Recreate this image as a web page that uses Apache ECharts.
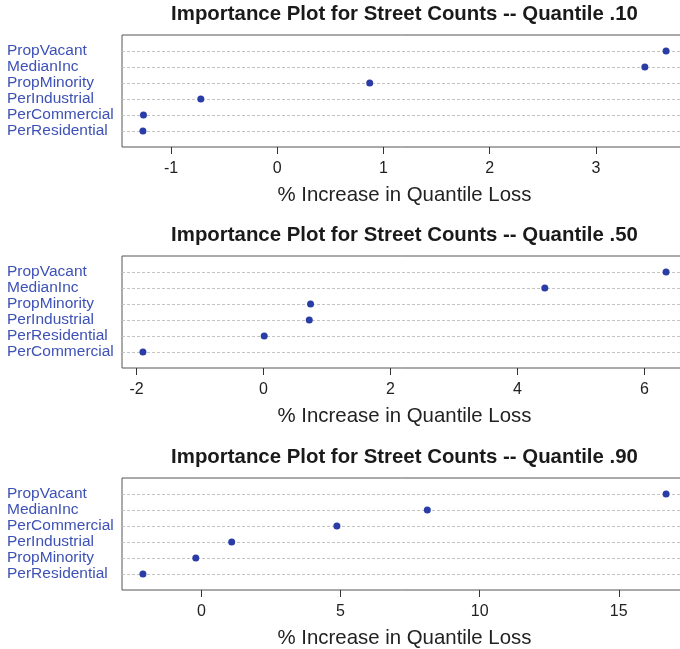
<!DOCTYPE html>
<html>
<head>
<meta charset="utf-8">
<script src="https://cdn.jsdelivr.net/npm/echarts@6/dist/echarts.min.js"></script>
<style>
html,body{margin:0;padding:0;background:#fff;}
#chart{width:680px;height:649px;}
</style>
</head>
<body>
<div id="chart"></div>
<script>
// Panel titles
const titles = [
  'Importance Plot for Street Counts -- Quantile .10',
  'Importance Plot for Street Counts -- Quantile .50',
  'Importance Plot for Street Counts -- Quantile .90'
];
const xAxisTitle = '% Increase in Quantile Loss';

// Variables listed top to bottom
const names10 = ['PropVacant','MedianInc','PropMinority','PerIndustrial','PerCommercial','PerResidential'];
const values10 = [3.66, 3.46, 0.87, -0.72, -1.26, -1.265];
const ticks10 = [-1, 0, 1, 2, 3];

const names50 = ['PropVacant','MedianInc','PropMinority','PerIndustrial','PerResidential','PerCommercial'];
const values50 = [6.34, 4.43, 0.74, 0.72, 0.01, -1.90];
const ticks50 = [-2, 0, 2, 4, 6];

const names90 = ['PropVacant','MedianInc','PerCommercial','PerIndustrial','PropMinority','PerResidential'];
const values90 = [16.70, 8.12, 4.87, 1.09, -0.20, -2.10];
const ticks90 = [0, 5, 10, 15];

const panels = [
  {names: names10, values: values10, ticks: ticks10},
  {names: names50, values: values50, ticks: ticks50},
  {names: names90, values: values90, ticks: ticks90}
];

const FONT = '"Liberation Sans", Arial, Helvetica, sans-serif';
const gridTops = [35, 256, 478];
const gridH = 112;
const gridLeft = 122;
const gridW = 565;
const plotCenter = gridLeft + gridW / 2;

const option = {
  backgroundColor: '#ffffff',
  animation: false,
  title: [], grid: [], xAxis: [], yAxis: [], series: []
};

panels.forEach((p, k) => {
  const n = p.names.length;
  const lo = Math.min(...p.values), hi = Math.max(...p.values);
  const pad = 0.04 * (hi - lo);
  option.title.push({
    text: titles[k],
    left: plotCenter,
    top: gridTops[k] - 31,
    textAlign: 'center',
    padding: 0,
    textStyle: {fontFamily: FONT, fontSize: 20.4, fontWeight: 'bold', color: '#1a1a1a'}
  });
  option.grid.push({
    left: gridLeft, width: gridW, top: gridTops[k], height: gridH,
    outerBoundsMode: 'none', containLabel: false,
    show: true, borderColor: '#555', borderWidth: 1, backgroundColor: 'transparent'
  });
  option.xAxis.push({
    type: 'value', gridIndex: k,
    min: lo - pad, max: hi + pad,
    axisLine: {show: false},
    axisTick: {show: true, length: 7, customValues: p.ticks, lineStyle: {color: '#333', width: 1}},
    axisLabel: {customValues: p.ticks, margin: 14, fontFamily: FONT, fontSize: 16, color: '#222',
      formatter: v => String(v)},
    splitLine: {show: false},
    name: xAxisTitle, nameLocation: 'middle', nameGap: 38,
    nameTextStyle: {fontFamily: FONT, fontSize: 20.4, color: '#222'}
  });
  const rowVals = p.names.map((_, i) => n - i);
  option.yAxis.push({
    type: 'value', gridIndex: k, min: 0, max: n + 1,
    axisLine: {show: false},
    axisTick: {show: false, customValues: rowVals},
    axisLabel: {customValues: rowVals, align: 'left', margin: gridLeft - 7,
      fontFamily: FONT, fontSize: 15.5, color: '#3d51b6',
      formatter: v => p.names[n - v] || ''},
    splitLine: {show: true, lineStyle: {color: '#c4c4c4', type: [3, 2], width: 1}}
  });
  option.series.push({
    type: 'scatter', xAxisIndex: k, yAxisIndex: k,
    symbol: 'circle', symbolSize: 7,
    itemStyle: {color: '#2a3ca6', opacity: 1},
    data: p.values.map((v, i) => [v, n - i])
  });
});

const chart = echarts.init(document.getElementById('chart'), null, {renderer: 'canvas'});
chart.setOption(option);
</script>
</body>
</html>
